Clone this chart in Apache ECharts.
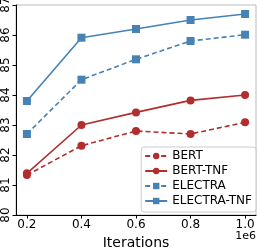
<!DOCTYPE html>
<html><head><meta charset="utf-8">
<script src="https://cdn.jsdelivr.net/npm/echarts@6/dist/echarts.min.js"></script>
<style>html,body{margin:0;padding:0;background:#fff}#c{width:257px;height:248px}</style>
</head><body><div id="c"></div>
<script>
const iterations = [0.2, 0.4, 0.6, 0.8, 1.0];
const bert = [81.33, 82.31, 82.8, 82.7, 83.09];
const bertTnf = [81.39, 83.0, 83.42, 83.82, 84.0];
const electra = [82.7, 84.51, 85.19, 85.8, 86.01];
const electraTnf = [83.8, 85.91, 86.2, 86.5, 86.7];
const red = '#b22d2d', blue = '#4682b4';
const F = 'DejaVu Sans';
function mk(name, vals, color, dashed, symbol, size) {
  return {
    name, type: 'line', data: iterations.map((x, i) => [x, vals[i]]),
    symbol, symbolSize: size, showSymbol: true,
    lineStyle: {color, width: 1.6, type: dashed ? [5, 3] : 'solid'},
    itemStyle: {color}, animation: false
  };
}
const chart = echarts.init(document.getElementById('c'), null, {renderer: 'canvas'});
chart.setOption({
  animation: false,
  grid: {left: 16, right: 1, top: 5, bottom: 33, show: true, borderColor: '#bbbbbb', borderWidth: 1,
         outerBoundsMode: 'none', containLabel: false},
  xAxis: {
    type: 'value', min: 0.16, max: 1.04, interval: 0.2,
    name: 'Iterations', nameLocation: 'middle', nameGap: 18,
    nameTextStyle: {fontFamily: F, fontSize: 14, color: '#000'},
    axisLine: {lineStyle: {color: '#000', width: 1}},
    axisTick: {show: true, length: 3.5, lineStyle: {color: '#000'}, customValues: iterations},
    splitLine: {show: false},
    axisLabel: {fontFamily: F, fontSize: 12, color: '#000', margin: 4,
      formatter: v => v.toFixed(1),
      customValues: iterations},
  },
  yAxis: {
    type: 'value', min: 80, max: 87, interval: 1,
    axisLine: {show: true, lineStyle: {color: '#000', width: 1}},
    axisTick: {show: true, length: 3.5, lineStyle: {color: '#000'}},
    splitLine: {show: false},
    axisLabel: {fontFamily: F, fontSize: 12, color: '#000', rotate: 90, margin: 4}
  },
  legend: {
    orient: 'vertical', right: 1, bottom: 36,
    itemWidth: 22, itemHeight: 8, itemGap: 3,
    textStyle: {fontFamily: F, fontSize: 12, color: '#000'},
    borderColor: '#cccccc', borderWidth: 1, borderRadius: 3,
    padding: [3, 4, 5, 3], backgroundColor: 'rgba(255,255,255,0.8)',
    data: ['BERT', 'BERT-TNF', 'ELECTRA', 'ELECTRA-TNF']
  },
  graphic: [{type: 'text', right: 1, bottom: 6, style: {text: '1e6', font: '11px "DejaVu Sans"', fill: '#000'}}],
  series: [
    mk('BERT', bert, red, true, 'circle', 8),
    mk('BERT-TNF', bertTnf, red, false, 'circle', 8),
    mk('ELECTRA', electra, blue, true, 'rect', 8),
    mk('ELECTRA-TNF', electraTnf, blue, false, 'rect', 8)
  ]
});
</script></body></html>
